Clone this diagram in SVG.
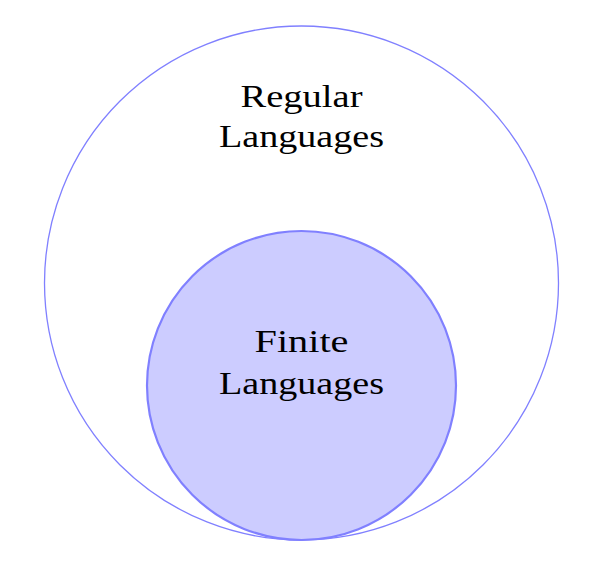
<svg xmlns="http://www.w3.org/2000/svg" width="592" height="562" viewBox="0 0 592 562">
<style>
text{font-family:"Liberation Serif","DejaVu Serif",serif;font-size:32px;fill:#000;text-anchor:middle}
</style>
<rect width="592" height="562" fill="#fff"/>
<g id="regular">
<circle cx="301.5" cy="283" r="257" fill="none" stroke="#8080ff" stroke-width="1.3"/>
<text x="301.5" y="107" textLength="122" lengthAdjust="spacingAndGlyphs">Regular</text>
<text x="301.5" y="147" textLength="165" lengthAdjust="spacingAndGlyphs">Languages</text>
</g>
<g id="finite">
<circle cx="301.5" cy="385.5" r="154.5" fill="#ccccff" stroke="#8080ff" stroke-width="2.2"/>
<text x="301.5" y="352" textLength="94" lengthAdjust="spacingAndGlyphs">Finite</text>
<text x="301.5" y="394" textLength="165" lengthAdjust="spacingAndGlyphs">Languages</text>
</g>
<g id="connectors"/>
</svg>
